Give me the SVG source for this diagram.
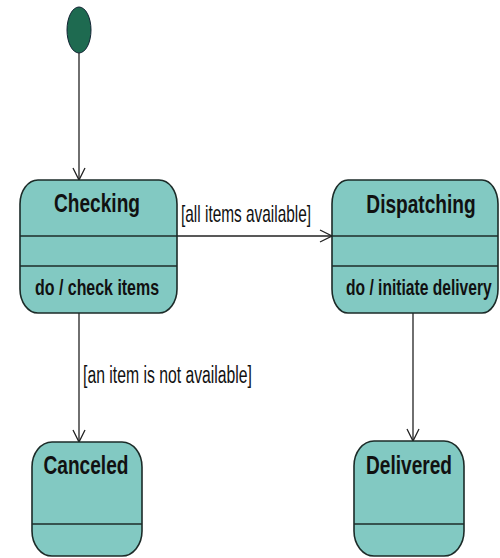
<svg xmlns="http://www.w3.org/2000/svg" width="500" height="558" viewBox="0 0 500 558">
<defs>
<style>
.st{fill:#82c9c2;stroke:#1c2b28;stroke-width:1.6}
.dv{stroke:#1c2b28;stroke-width:1.6}
.nm{font-family:"Liberation Sans",Arial,sans-serif;font-weight:bold;font-size:26px;fill:#111;text-anchor:middle}
.ac{font-family:"Liberation Sans",Arial,sans-serif;font-weight:bold;font-size:22px;fill:#111}
.lb{font-family:"Liberation Sans",Arial,sans-serif;font-size:23px;fill:#111}
.cn{stroke:#222;stroke-width:1.3;fill:none}
</style>
<marker id="arr" markerWidth="16" markerHeight="16" refX="13" refY="7" orient="auto" markerUnits="userSpaceOnUse">
<path d="M1,1 L13,7 L1,13" fill="none" stroke="#222" stroke-width="1.3"/>
</marker>
</defs>
<rect width="500" height="558" fill="#fff"/>
<g id="initial">
<ellipse cx="79" cy="30" rx="12" ry="23" fill="#1e6a50" stroke="#123" stroke-width="1"/>
</g>
<g id="connectors">
<line class="cn" x1="79" y1="53" x2="79" y2="180" marker-end="url(#arr)"/>
<line class="cn" x1="177" y1="236" x2="332" y2="236" marker-end="url(#arr)"/>
<line class="cn" x1="79" y1="313" x2="79" y2="442" marker-end="url(#arr)"/>
<line class="cn" x1="413" y1="313" x2="413" y2="441" marker-end="url(#arr)"/>
<text class="lb" transform="translate(181,222) scale(0.67,1)">[all items available]</text>
<text class="lb" transform="translate(83,383) scale(0.685,1)">[an item is not available]</text>
</g>
<g id="checking">
<rect class="st" x="20" y="180" width="157" height="133" rx="18" ry="24"/>
<line class="dv" x1="20" y1="236" x2="177" y2="236"/>
<line class="dv" x1="20" y1="266" x2="177" y2="266"/>
<text class="nm" transform="translate(97,212) scale(0.735,1)">Checking</text>
<text class="ac" transform="translate(35,295) scale(0.725,1)">do / check items</text>
</g>
<g id="dispatching">
<rect class="st" x="332" y="180" width="166" height="133" rx="16" ry="24"/>
<line class="dv" x1="332" y1="236" x2="498" y2="236"/>
<line class="dv" x1="332" y1="266" x2="498" y2="266"/>
<text class="nm" transform="translate(421,213) scale(0.735,1)">Dispatching</text>
<text class="ac" transform="translate(346,295) scale(0.71,1)">do / initiate delivery</text>
</g>
<g id="canceled">
<rect class="st" x="32" y="442" width="110" height="114" rx="20" ry="25"/>
<line class="dv" x1="32" y1="524" x2="142" y2="524"/>
<text class="nm" transform="translate(86,474) scale(0.735,1)">Canceled</text>
</g>
<g id="delivered">
<rect class="st" x="354" y="441" width="110" height="115" rx="20" ry="25"/>
<line class="dv" x1="354" y1="524" x2="464" y2="524"/>
<text class="nm" transform="translate(409,474) scale(0.735,1)">Delivered</text>
</g>
</svg>
